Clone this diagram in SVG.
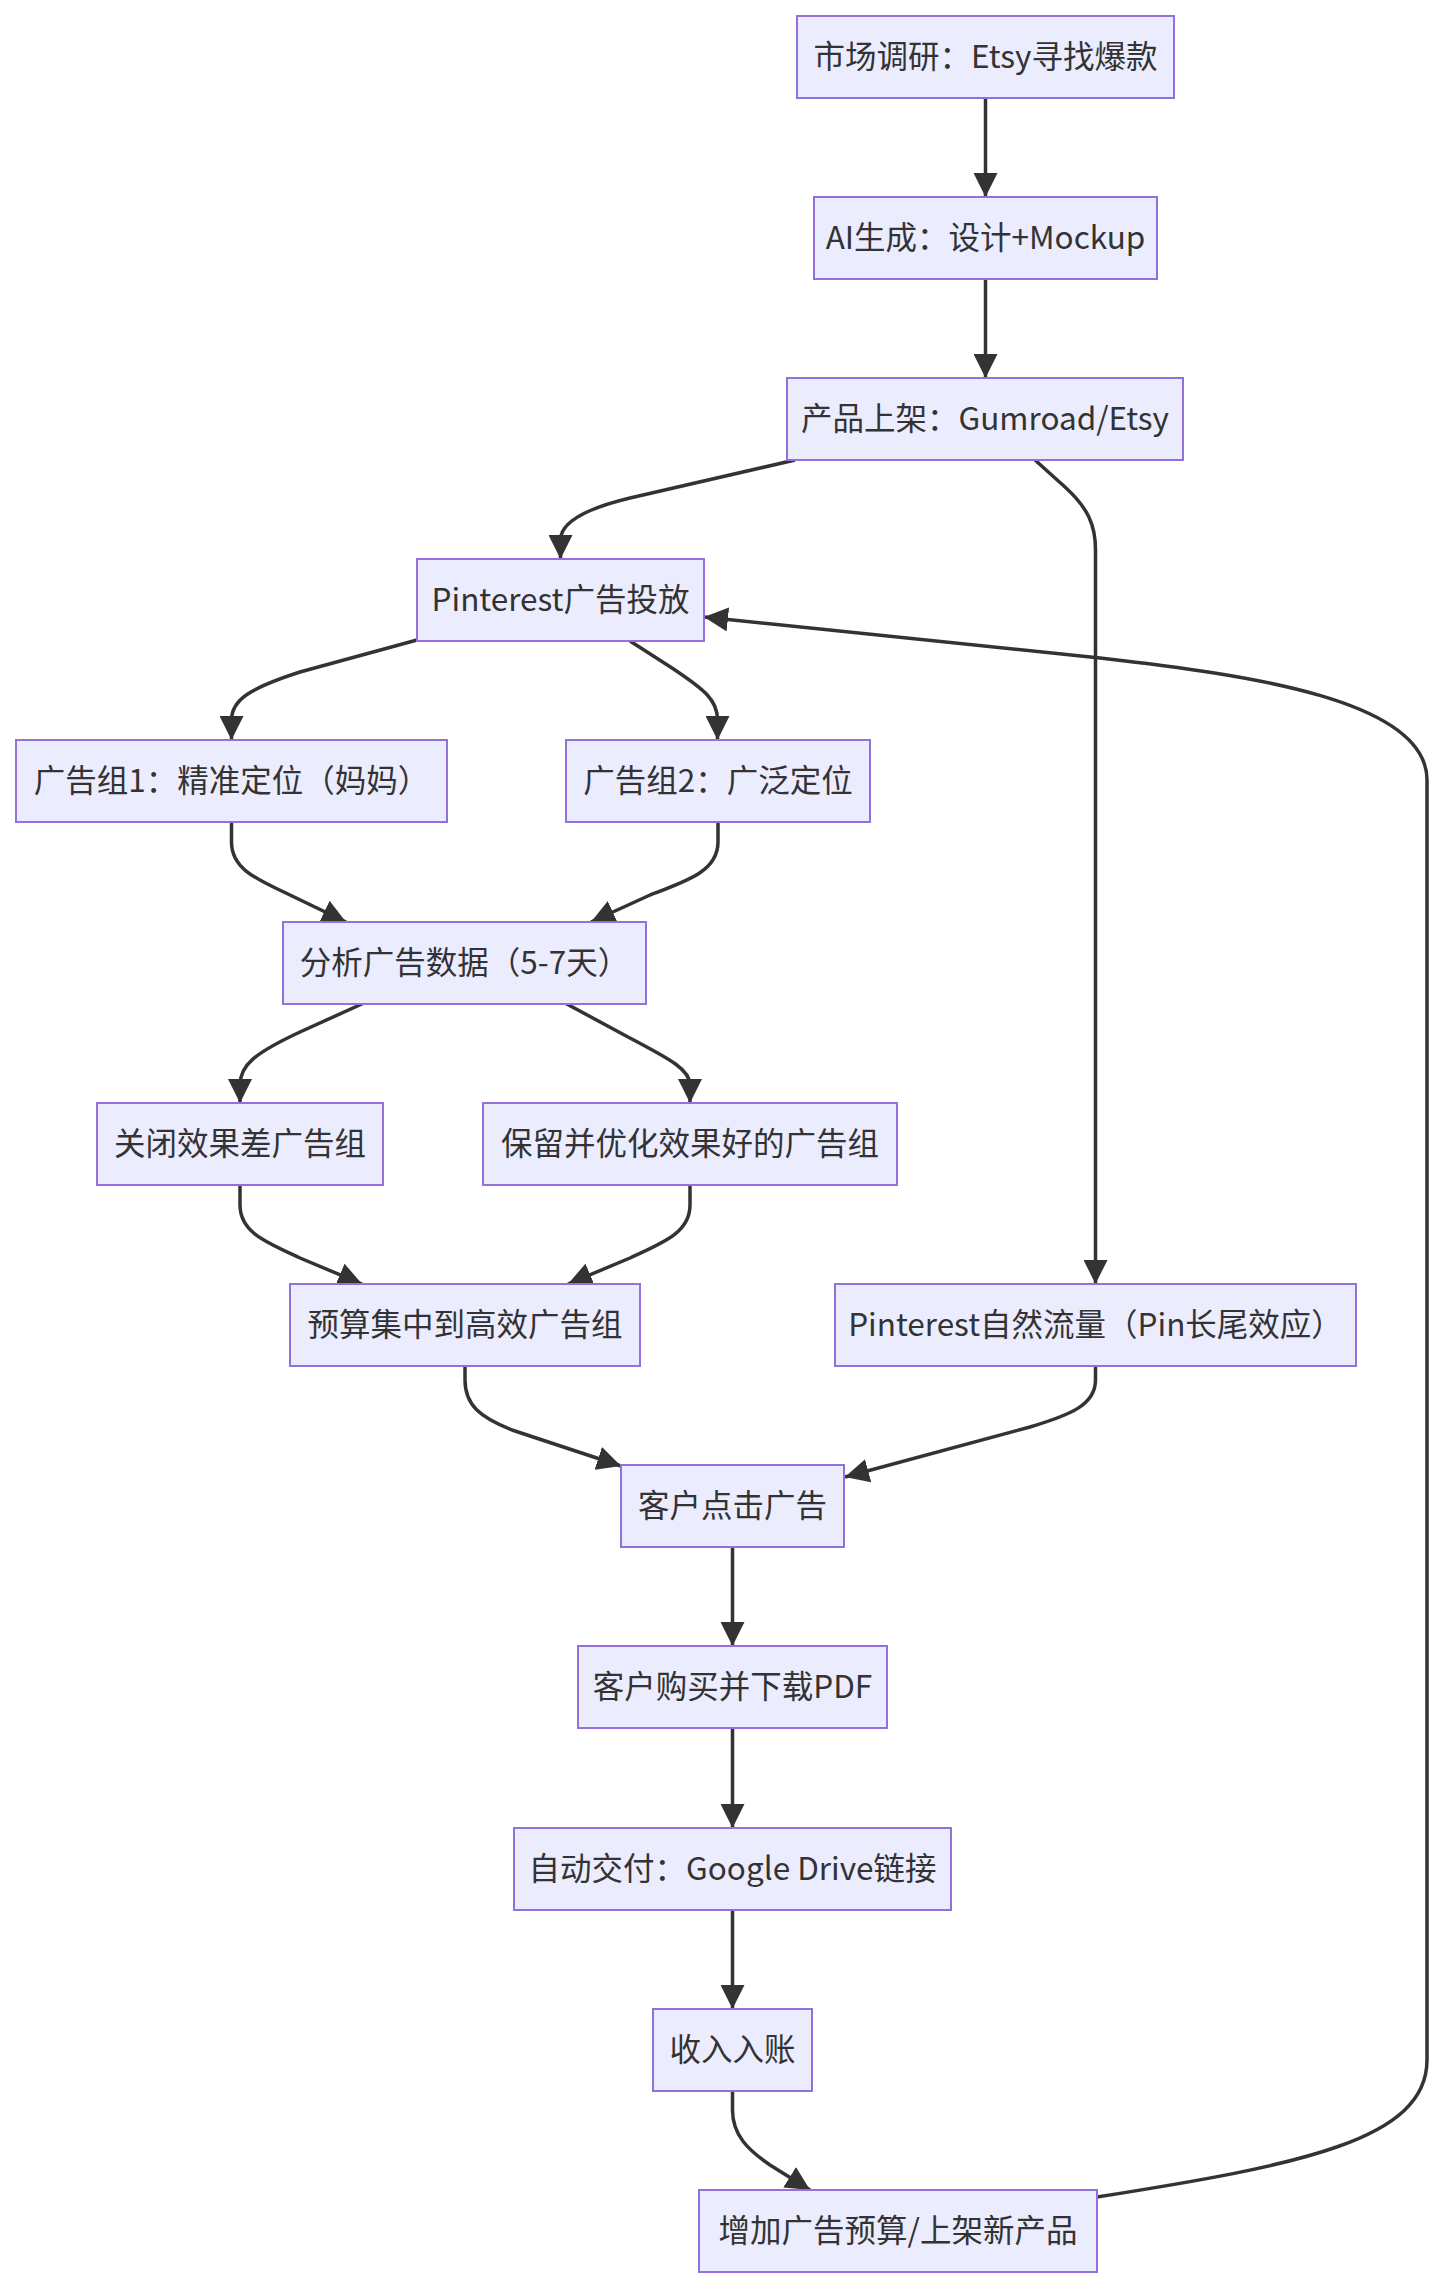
<svg xmlns="http://www.w3.org/2000/svg" width="1444" height="2288" viewBox="0 0 1444 2288">
<style>
.node rect{fill:#ECECFF;stroke:#9370DB;stroke-width:2}
.node text{font-family:"Noto Sans CJK SC","Noto Sans",sans-serif;font-size:31.5px;fill:#333;text-anchor:middle;dominant-baseline:central}
.edges path{fill:none;stroke:#333;stroke-width:3.5;marker-end:url(#arrow)}
</style>
<defs>
<marker id="arrow" viewBox="0 0 10 10" refX="10" refY="5" markerUnits="userSpaceOnUse" markerWidth="24" markerHeight="24" orient="auto">
<path d="M0,0 L10,5 L0,10 z" fill="#333"/>
</marker>
</defs>
<rect width="1444" height="2288" fill="#fff"/>
<g class="edges" id="edges">
<path d="M985.5,98 L985.5,197"/>
<path d="M985.5,279 L985.5,378"/>
<path d="M795,460 L630,498 C580,510 560.5,525 560.5,540 L560.5,559"/>
<path d="M1035,460 L1065,487 C1088,508 1095.5,525 1095.5,550 L1095.5,1284"/>
<path d="M417,640 L300,672 C250,688 231.5,700 231.5,720 L231.5,740"/>
<path d="M630,641 L672,668 C705,690 717.5,700 717.5,720 L717.5,740"/>
<path d="M231.5,822 L231.5,842 C231.5,870 259,880 290,895 L346,922"/>
<path d="M718,822 L718,842 C718,870 690,880 650,895 L591,922"/>
<path d="M364,1003 L300,1032 C255,1053 240,1065 240,1085 L240,1103"/>
<path d="M565,1003 L628,1037 C672,1060 690,1070 690,1085 L690,1103"/>
<path d="M240,1185 L240,1205 C240,1233 268,1243 300,1258 L362,1284"/>
<path d="M690,1185 L690,1205 C690,1233 662,1243 630,1258 L568,1284"/>
<path d="M465,1366 L465,1380 C465,1405 480,1418 515,1431 L621,1466"/>
<path d="M1095.5,1366 L1095.5,1380 C1095.5,1405 1070,1415 1030,1427 L845,1477"/>
<path d="M732.5,1547 L732.5,1646"/>
<path d="M732.5,1728 L732.5,1828"/>
<path d="M732.5,1910 L732.5,2009"/>
<path d="M732.5,2091 L732.5,2110 C732.5,2135 748,2150 770,2165 L810,2190"/>
<path d="M1097,2197 C1300,2165 1427,2140 1427,2060 L1427,780 C1427,700 1250,675 1100,658 L704,617"/>
</g>
<g class="node" id="n1"><rect x="797" y="16" width="377" height="82"/><text x="985.5" y="54">市场调研：Etsy寻找爆款</text></g>
<g class="node" id="n2"><rect x="814" y="197" width="343" height="82"/><text x="985.5" y="235">AI生成：设计+Mockup</text></g>
<g class="node" id="n3"><rect x="787" y="378" width="396" height="82"/><text x="985" y="416">产品上架：Gumroad/Etsy</text></g>
<g class="node" id="n4"><rect x="417" y="559" width="287" height="82"/><text x="560.5" y="597">Pinterest广告投放</text></g>
<g class="node" id="n5"><rect x="16" y="740" width="431" height="82"/><text x="231.5" y="778">广告组1：精准定位（妈妈）</text></g>
<g class="node" id="n6"><rect x="566" y="740" width="304" height="82"/><text x="718" y="778">广告组2：广泛定位</text></g>
<g class="node" id="n7"><rect x="283" y="922" width="363" height="82"/><text x="464.5" y="960">分析广告数据（5-7天）</text></g>
<g class="node" id="n8"><rect x="97" y="1103" width="286" height="82"/><text x="240" y="1141">关闭效果差广告组</text></g>
<g class="node" id="n9"><rect x="483" y="1103" width="414" height="82"/><text x="690" y="1141">保留并优化效果好的广告组</text></g>
<g class="node" id="n10"><rect x="290" y="1284" width="350" height="82"/><text x="465" y="1322">预算集中到高效广告组</text></g>
<g class="node" id="n11"><rect x="835" y="1284" width="521" height="82"/><text x="1095.5" y="1322">Pinterest自然流量（Pin长尾效应）</text></g>
<g class="node" id="n12"><rect x="621" y="1465" width="223" height="82"/><text x="732.5" y="1503">客户点击广告</text></g>
<g class="node" id="n13"><rect x="578" y="1646" width="309" height="82"/><text x="732.5" y="1684">客户购买并下载PDF</text></g>
<g class="node" id="n14"><rect x="514" y="1828" width="437" height="82"/><text x="732.5" y="1866">自动交付：Google Drive链接</text></g>
<g class="node" id="n15"><rect x="653" y="2009" width="159" height="82"/><text x="732.5" y="2047">收入入账</text></g>
<g class="node" id="n16"><rect x="699" y="2190" width="398" height="82"/><text x="898" y="2228">增加广告预算/上架新产品</text></g>
</svg>
